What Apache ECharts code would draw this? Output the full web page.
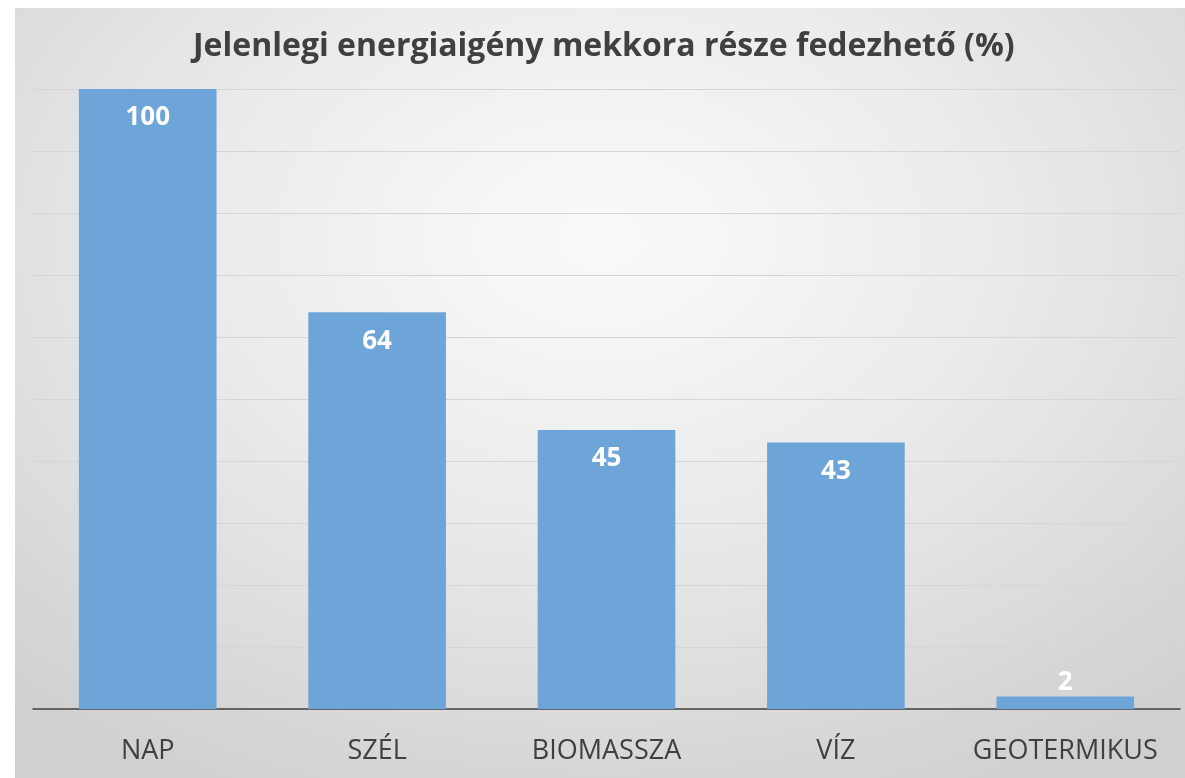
<!doctype html>
<html>
<head>
  <meta charset="utf-8">
  <title>energiaigény</title>
  <script src="https://cdn.jsdelivr.net/npm/echarts@6/dist/echarts.min.js"></script>
  <style>
    body { margin: 0; background: #fff; }
    #main {
      position: absolute;
      left: 15px;
      top: 8px;
      width: 1170px;
      height: 770px;
      background: radial-gradient(ellipse 75% 80% at 50% 30%, #fafafa 0%, #ebebeb 45%, #d0d0d0 100%);
    }
  </style>
</head>
<body>
  <div id="main"></div>
<script>
var categories = ['NAP', 'SZÉL', 'BIOMASSZA', 'VÍZ', 'GEOTERMIKUS'];
var values = [100, 64, 45, 43, 2];

var chart = echarts.init(document.getElementById('main'));

var seriesData = values.map(function (v) {
  if (v < 10) {
    return { value: v, label: { position: 'top', distance: 1 } };
  }
  return v;
});

var option = {
  backgroundColor: 'transparent',
  title: {
    text: 'Jelenlegi energiaigény mekkora része fedezhető (%)',
    left: 173,
    top: 18,
    textStyle: { fontFamily: 'Open Sans', fontWeight: 'bold', fontSize: 32, color: '#404040' }
  },
  grid: { left: 18, right: 5, top: 81, bottom: 69 },
  xAxis: {
    type: 'category',
    data: categories,
    axisTick: { show: false },
    axisLine: { lineStyle: { color: '#404040', width: 1.5 } },
    axisLabel: { interval: 0, fontFamily: 'Open Sans', fontSize: 27, color: '#404040', margin: 29 }
  },
  yAxis: {
    type: 'value',
    min: 0,
    max: 100,
    interval: 10,
    axisLabel: { show: false },
    axisLine: { show: false },
    axisTick: { show: false },
    splitLine: { lineStyle: { color: '#d6d6d6', width: 1 } }
  },
  series: [{
    type: 'bar',
    data: seriesData,
    barWidth: '60%',
    itemStyle: { color: '#6ea5d8' },
    label: {
      show: true,
      position: 'insideTop',
      distance: 16,
      color: '#ffffff',
      fontFamily: 'Open Sans',
      fontWeight: 'bold',
      fontSize: 26
    }
  }]
};
chart.setOption(option);
</script>
</body>
</html>
